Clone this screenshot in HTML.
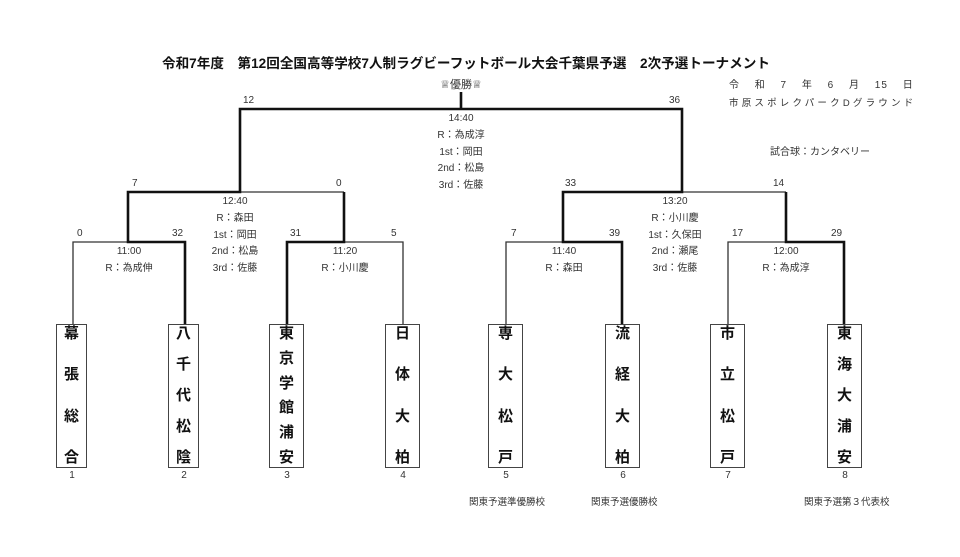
<!DOCTYPE html>
<html><head><meta charset="utf-8"><style>
body{margin:0;width:960px;height:557px;background:#fff;position:relative;overflow:hidden;font-family:"Liberation Sans","Noto Sans CJK JP",sans-serif;color:#222}
.t{position:absolute;font-size:10px;white-space:nowrap;color:#333}
.c{transform:translateX(-50%)}
.box{position:absolute;top:324px;height:144px;border:1.5px solid #444;box-sizing:border-box;display:flex;flex-direction:column;justify-content:space-between;align-items:center;font-weight:bold;font-size:15px;line-height:17px;color:#111;padding:0 0 1px}
</style></head><body>
<svg width="960" height="557" style="position:absolute;left:0;top:0">
<g fill="none" stroke="#333" stroke-width="1.3">
<path d="M73 324V242H185M403 324V242H287M506 324V242H563M728 324V242H786M344 192H128M786 192H682M240 109H461"/>
</g>
<g fill="none" stroke="#111" stroke-width="2.6">
<path d="M185 324V242H128V192H240V109H461V92M287 324V242H344V192M622 324V242H563V192H682V109H461M844 324V242H786V192"/>
</g>
</svg>
<div class="t" style="left:162px;top:52px;font-size:13.6px;font-weight:bold;color:#111">令和7年度　第12回全国高等学校7人制ラグビーフットボール大会千葉県予選　2次予選トーナメント</div>
<div class="t c" style="left:461px;top:76px;font-size:11px">♕優勝♕</div>
<div class="t" style="left:729px;top:76px;letter-spacing:1px">令　 和　 7　 年　 6　 月　 15　 日</div>
<div class="t" style="left:729px;top:95px;letter-spacing:3.2px;font-size:9.5px">市原スポレクパークDグラウンド</div>
<div class="t" style="left:770px;top:143px">試合球：カンタベリー</div>

<div class="t" style="left:243px;top:95px">12</div>
<div class="t" style="left:669px;top:95px">36</div>
<div class="t c" style="left:461px;top:111px;line-height:16.8px;text-align:center">14:40<br>R：為成淳<br>1st：岡田<br>2nd：松島<br>3rd：佐藤</div>

<div class="t" style="left:132px;top:178px">7</div>
<div class="t" style="left:336px;top:178px">0</div>
<div class="t" style="left:565px;top:178px">33</div>
<div class="t" style="left:773px;top:178px">14</div>
<div class="t c" style="left:235px;top:194px;line-height:16.8px;text-align:center">12:40<br>R：森田<br>1st：岡田<br>2nd：松島<br>3rd：佐藤</div>
<div class="t c" style="left:675px;top:194px;line-height:16.8px;text-align:center">13:20<br>R：小川慶<br>1st：久保田<br>2nd：瀬尾<br>3rd：佐藤</div>

<div class="t" style="left:77px;top:228px">0</div>
<div class="t" style="left:172px;top:228px">32</div>
<div class="t" style="left:290px;top:228px">31</div>
<div class="t" style="left:391px;top:228px">5</div>
<div class="t" style="left:511px;top:228px">7</div>
<div class="t" style="left:609px;top:228px">39</div>
<div class="t" style="left:732px;top:228px">17</div>
<div class="t" style="left:831px;top:228px">29</div>
<div class="t c" style="left:129px;top:244px;line-height:16.8px;text-align:center">11:00<br>R：為成伸</div>
<div class="t c" style="left:345px;top:244px;line-height:16.8px;text-align:center">11:20<br>R：小川慶</div>
<div class="t c" style="left:564px;top:244px;line-height:16.8px;text-align:center">11:40<br>R：森田</div>
<div class="t c" style="left:786px;top:244px;line-height:16.8px;text-align:center">12:00<br>R：為成淳</div>

<div class="box" style="left:56px;width:31px"><span>幕</span><span>張</span><span>総</span><span>合</span></div>
<div class="box" style="left:168px;width:31px"><span>八</span><span>千</span><span>代</span><span>松</span><span>陰</span></div>
<div class="box" style="left:269px;width:35px"><span>東</span><span>京</span><span>学</span><span>館</span><span>浦</span><span>安</span></div>
<div class="box" style="left:385px;width:35px"><span>日</span><span>体</span><span>大</span><span>柏</span></div>
<div class="box" style="left:488px;width:35px"><span>専</span><span>大</span><span>松</span><span>戸</span></div>
<div class="box" style="left:605px;width:35px"><span>流</span><span>経</span><span>大</span><span>柏</span></div>
<div class="box" style="left:710px;width:35px"><span>市</span><span>立</span><span>松</span><span>戸</span></div>
<div class="box" style="left:827px;width:35px"><span>東</span><span>海</span><span>大</span><span>浦</span><span>安</span></div>

<div class="t c" style="left:72px;top:470px">1</div>
<div class="t c" style="left:184px;top:470px">2</div>
<div class="t c" style="left:287px;top:470px">3</div>
<div class="t c" style="left:403px;top:470px">4</div>
<div class="t c" style="left:506px;top:470px">5</div>
<div class="t c" style="left:623px;top:470px">6</div>
<div class="t c" style="left:728px;top:470px">7</div>
<div class="t c" style="left:845px;top:470px">8</div>
<div class="t" style="left:469px;top:494px;font-size:9.5px">関東予選準優勝校</div>
<div class="t" style="left:591px;top:494px;font-size:9.5px">関東予選優勝校</div>
<div class="t" style="left:804px;top:494px;font-size:9.5px">関東予選第３代表校</div>
</body></html>
